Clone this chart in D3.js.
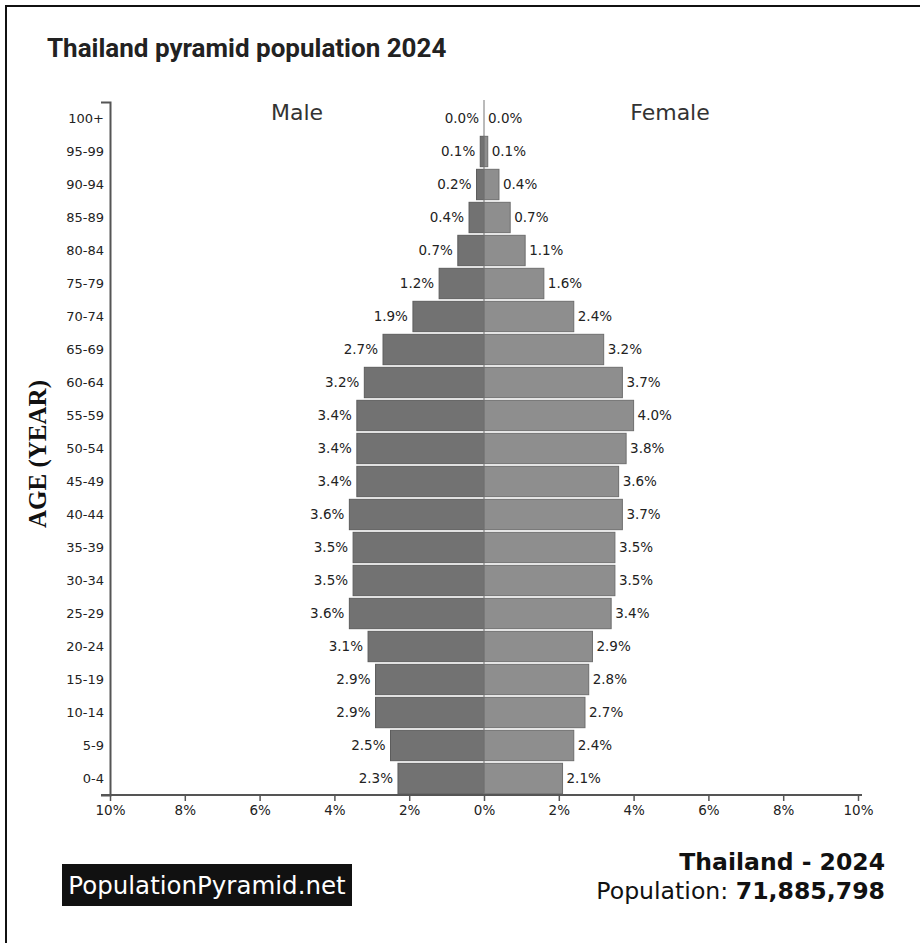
<!DOCTYPE html>
<html>
<head>
<meta charset="utf-8">
<script src="https://cdn.jsdelivr.net/npm/d3@7"></script>
<style>
  body { margin: 0; background: #fff; }
  svg { display: block; }
  .tick text { font-family: "DejaVu Sans", sans-serif; font-size: 13px; fill: #222; }
  .val { font-family: "DejaVu Sans", sans-serif; font-size: 13.5px; fill: #222; }
</style>
</head>
<body>
<svg id="pyramid" width="920" height="943"></svg>
<script>
const ages = ['0-4', '5-9', '10-14', '15-19', '20-24', '25-29', '30-34', '35-39', '40-44', '45-49',
    '50-54', '55-59', '60-64', '65-69', '70-74', '75-79', '80-84', '85-89', '90-94', '95-99', '100+'];
const male = [2.3, 2.5, 2.9, 2.9, 3.1, 3.6, 3.5, 3.5, 3.6, 3.4, 3.4, 3.4, 3.2, 2.7, 1.9, 1.2, 0.7, 0.4, 0.2, 0.1, 0.0];
const female = [2.1, 2.4, 2.7, 2.8, 2.9, 3.4, 3.5, 3.5, 3.7, 3.6, 3.8, 4.0, 3.7, 3.2, 2.4, 1.6, 1.1, 0.7, 0.4, 0.1, 0.0];
const xTicks = [-10, -8, -6, -4, -2, 0, 2, 4, 6, 8, 10];

const svg = d3.select("svg#pyramid");

// frame (only top and left edges show in the crop)
svg.append("line").attr("x1", 6).attr("y1", 6).attr("x2", 920).attr("y2", 6)
    .attr("stroke", "#111").attr("stroke-width", 2);
svg.append("line").attr("x1", 6).attr("y1", 5).attr("x2", 6).attr("y2", 943)
    .attr("stroke", "#111").attr("stroke-width", 2);

// title
svg.append("text")
    .attr("x", 47).attr("y", 57)
    .style("font-family", "Roboto, sans-serif")
    .style("font-size", "26px")
    .style("font-weight", "bold")
    .style("fill", "#222")
    .text("Thailand pyramid population 2024");

// scales
const x = d3.scaleLinear().domain([-10, 10]).range([110, 858]);
const y = d3.scaleBand().domain(ages.slice().reverse()).range([102, 795]).paddingInner(0.08).paddingOuter(0.04);

// bars
const rows = ages.map((a, i) => ({ age: a, m: male[i], f: female[i] }));

svg.append("g").selectAll("rect")
    .data(rows)
    .join("rect")
    .attr("x", d => x(-d.m))
    .attr("y", d => y(d.age))
    .attr("width", d => x(0) - x(-d.m))
    .attr("height", y.bandwidth())
    .attr("fill", "#727272")
    .attr("stroke", "#5c5c5c")
    .attr("stroke-width", 1);

svg.append("g").selectAll("rect")
    .data(rows)
    .join("rect")
    .attr("x", x(0))
    .attr("y", d => y(d.age))
    .attr("width", d => x(d.f) - x(0))
    .attr("height", y.bandwidth())
    .attr("fill", "#8e8e8e")
    .attr("stroke", "#6e6e6e")
    .attr("stroke-width", 1);

// centre line
svg.append("line")
    .attr("x1", x(0)).attr("x2", x(0))
    .attr("y1", 100).attr("y2", 795)
    .attr("stroke", "#777").attr("stroke-width", 1);

// value labels
svg.append("g").selectAll("text")
    .data(rows)
    .join("text")
    .attr("class", "val")
    .attr("x", d => x(-d.m) - 5)
    .attr("y", d => y(d.age) + y.bandwidth() / 2)
    .attr("dy", ".35em")
    .attr("text-anchor", "end")
    .text(d => d.m.toFixed(1) + "%");

svg.append("g").selectAll("text")
    .data(rows)
    .join("text")
    .attr("class", "val")
    .attr("x", d => x(d.f) + 4)
    .attr("y", d => y(d.age) + y.bandwidth() / 2)
    .attr("dy", ".35em")
    .text(d => d.f.toFixed(1) + "%");

// axes
const yAxis = d3.axisLeft(y).tickSize(0).tickSizeOuter(9).tickPadding(6);
const gy = svg.append("g").attr("transform", `translate(${x(-10)},0)`).call(yAxis);
gy.select(".domain").attr("stroke", "#555").attr("stroke-width", 2);

const xAxis = d3.axisBottom(x).tickValues(xTicks).tickSize(6).tickPadding(4)
    .tickFormat(d => Math.abs(d) + "%");
const gx = svg.append("g").attr("transform", "translate(0,795)").call(xAxis);
gx.select(".domain").remove();
gx.selectAll(".tick line").attr("stroke", "#555").attr("stroke-width", 1.5);
gx.selectAll(".tick text").style("font-size", "13.5px");
gx.append("line").attr("x1", 101).attr("x2", 862).attr("y1", 0).attr("y2", 0)
    .attr("stroke", "#555").attr("stroke-width", 2);

// sex headers
svg.append("text")
    .attr("x", 297).attr("y", 120)
    .attr("text-anchor", "middle")
    .style("font-family", "DejaVu Sans, sans-serif")
    .style("font-size", "22px")
    .style("fill", "#333")
    .text("Male");

svg.append("text")
    .attr("x", 670).attr("y", 120)
    .attr("text-anchor", "middle")
    .style("font-family", "DejaVu Sans, sans-serif")
    .style("font-size", "22px")
    .style("fill", "#333")
    .text("Female");

// y-axis title
svg.append("text")
    .attr("transform", "translate(46,454) rotate(-90)")
    .attr("text-anchor", "middle")
    .style("font-family", "Liberation Serif, serif")
    .style("font-size", "25px")
    .style("font-weight", "bold")
    .style("fill", "#111")
    .text("AGE (YEAR)");

// footer
svg.append("rect")
    .attr("x", 62).attr("y", 864).attr("width", 290).attr("height", 42)
    .attr("fill", "#111");
svg.append("text")
    .attr("x", 207).attr("y", 894)
    .attr("text-anchor", "middle")
    .style("font-family", "DejaVu Sans, sans-serif")
    .style("font-size", "24.5px")
    .style("fill", "#fff")
    .text("PopulationPyramid.net");

svg.append("text")
    .attr("x", 885).attr("y", 870)
    .attr("text-anchor", "end")
    .style("font-family", "DejaVu Sans, sans-serif")
    .style("font-size", "23.5px")
    .style("font-weight", "bold")
    .style("fill", "#111")
    .text("Thailand - 2024");

const pop = svg.append("text")
    .attr("x", 885).attr("y", 899)
    .attr("text-anchor", "end")
    .style("font-family", "DejaVu Sans, sans-serif")
    .style("font-size", "23.6px")
    .style("fill", "#111");
pop.append("tspan").text("Population: ");
pop.append("tspan").style("font-weight", "bold").text("71,885,798");
</script>
</body>
</html>
